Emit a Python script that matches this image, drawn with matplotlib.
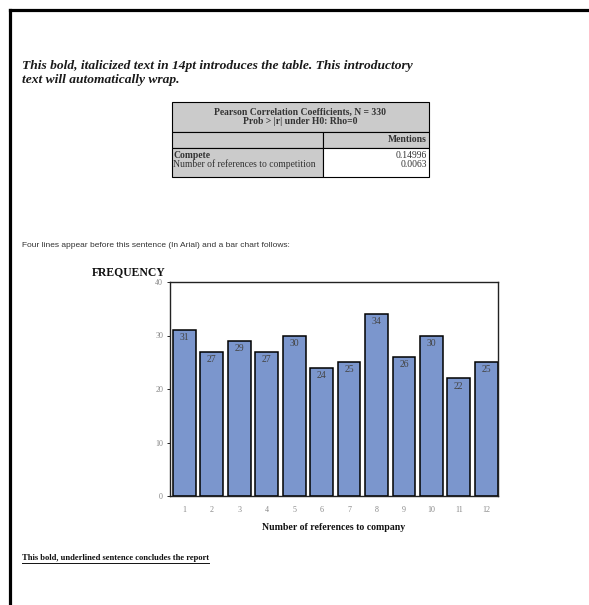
import numpy as np
from matplotlib import pyplot as plt
from matplotlib.patches import Rectangle
from matplotlib.lines import Line2D

W, H = 589, 605

# chart data
categories = [1, 2, 3, 4, 5, 6, 7, 8, 9, 10, 11, 12]
frequency = [31, 27, 29, 27, 30, 24, 25, 34, 26, 30, 22, 25]
y_ticks = [0, 10, 20, 30, 40]

# table contents
table_title = ["Pearson Correlation Coefficients, N = 330", "Prob > |r| under H0: Rho=0"]
table_column = "Mentions"
row_labels = ["Compete", "Number of references to competition"]
row_values = ["0.14996", "0.0063"]

intro_text = ["This bold, italicized text in 14pt introduces the table. This introductory",
              "text will automatically wrap."]
arial_text = "Four lines appear before this sentence (In Arial) and a bar chart follows:"
closing_text = "This bold, underlined sentence concludes the report"


def px(x, y):
    """Pixel position (from top left) to figure fraction."""
    return x / W, 1 - y / H


fig = plt.figure(figsize=(W / 100, H / 100), dpi=100)
fig.patch.set_facecolor("white")

# page border (top and left)
fig.add_artist(Line2D([9.5 / W, 1], [1 - 9.5 / H] * 2, color="black", lw=2.3, transform=fig.transFigure))
fig.add_artist(Line2D([9.5 / W] * 2, [0, 1 - 9.5 / H], color="black", lw=2.3, transform=fig.transFigure))

serif = "Liberation Serif"

# intro text
for i, line in enumerate(intro_text):
    fig.text(*px(22, 66 + i * 14), line, family=serif, weight="bold", style="italic",
             fontsize=9.7, va="center", ha="left", color="#1a1a1a")

# table
grey = "#CBCBCB"
tl, tr, tm = 172, 429, 323
rows_y = [102, 132, 148, 177]


def cell(x0, y0, x1, y1, color):
    x, y = px(x0, y1)
    fig.add_artist(Rectangle((x, y), (x1 - x0) / W, (y1 - y0) / H, facecolor=color,
                             edgecolor="black", lw=0.8, transform=fig.transFigure))


cell(tl, rows_y[0], tr, rows_y[1], grey)
cell(tl, rows_y[1], tm, rows_y[2], grey)
cell(tm, rows_y[1], tr, rows_y[2], grey)
cell(tl, rows_y[2], tm, rows_y[3], grey)
cell(tm, rows_y[2], tr, rows_y[3], "white")

tsize = 6.9
for i, line in enumerate(table_title):
    fig.text(*px((tl + tr) / 2, 112 + i * 10), line, family=serif, weight="bold",
             fontsize=tsize, ha="center", va="center", color="#333333")
fig.text(*px(tr - 2, 140), table_column, family=serif, weight="bold",
         fontsize=tsize, ha="right", va="center", color="#333333")
for i, (lab, val) in enumerate(zip(row_labels, row_values)):
    fig.text(*px(tl + 1, 156 + i * 8.5), lab, family=serif, weight="bold" if i == 0 else "normal",
             fontsize=tsize, ha="left", va="center", color="#333333")
    fig.text(*px(tr - 2, 156 + i * 8.5), val, family=serif,
             fontsize=tsize, ha="right", va="center", color="#333333")

# arial sentence
fig.text(*px(22, 246), arial_text, family="Liberation Sans", fontsize=6.0,
         ha="left", va="center", color="#333333")

# bar chart
ax = fig.add_axes([170 / W, 1 - 496 / H, (498 - 170) / W, (496 - 282) / H])
bars = ax.bar(categories, frequency, width=0.83, color="#7B96CD", edgecolor="black", lw=1.1)
for x, v in zip(categories, frequency):
    ax.text(x, v - 0.6, str(v), ha="center", va="top", family=serif, fontsize=7, color="#444444")
ax.set_xlim(0.475, 12.43)
ax.set_ylim(0, 40)
ax.set_yticks(y_ticks)
ax.set_xticks(categories)
ax.tick_params(axis="both", labelsize=5.8, labelcolor="#888888", length=2, width=0.6, pad=3)
ax.tick_params(axis="x", length=0, pad=7)
for lab in ax.get_xticklabels() + ax.get_yticklabels():
    lab.set_family(serif)
for s in ax.spines.values():
    s.set_linewidth(1.0)
    s.set_color("#222222")

fig.text(*px(92, 272), "FREQUENCY", family=serif, weight="bold", fontsize=8.4,
         ha="left", va="center", color="#111111")
fig.text(*px(334, 528), "Number of references to company", family=serif, weight="bold",
         fontsize=7.1, ha="center", va="center", color="#111111")

# closing sentence, underlined
t = fig.text(*px(22, 558), closing_text, family=serif, weight="bold", fontsize=6.1,
             ha="left", va="center", color="#111111")
fig.canvas.draw()
bb = t.get_window_extent()
fig.add_artist(Line2D([bb.x0 / W, bb.x1 / W], [(bb.y0 - 1) / H] * 2, color="#111111", lw=0.7,
                      transform=fig.transFigure))

fig.savefig("out.png", dpi=100)
